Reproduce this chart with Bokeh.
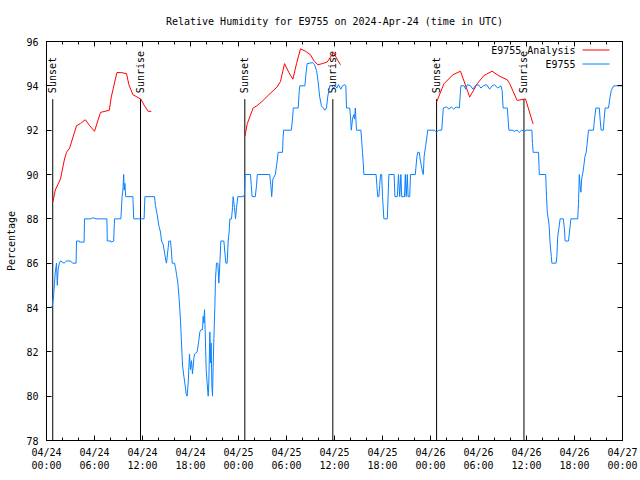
import math
from bokeh.plotting import figure
from bokeh.models import Range1d, FixedTicker, LinearAxis, Label, Arrow, ColumnDataSource
from bokeh.core.properties import value
from bokeh.embed import file_html
from bokeh.resources import INLINE

nan = float("nan")
FONT = "DejaVu Sans Mono"

title_text = "Relative Humidity for E9755 on 2024-Apr-24 (time in UTC)"
y_axis_label = "Percentage"
series_names = ["E9755 Analysis", "E9755"]

# x values are hours since 2024-04-24 00:00 UTC
x_tick_hours = [0, 6, 12, 18, 24, 30, 36, 42, 48, 54, 60, 66, 72]
x_tick_labels = ["04/24\n00:00", "04/24\n06:00", "04/24\n12:00", "04/24\n18:00",
                 "04/25\n00:00", "04/25\n06:00", "04/25\n12:00", "04/25\n18:00",
                 "04/26\n00:00", "04/26\n06:00", "04/26\n12:00", "04/26\n18:00",
                 "04/27\n00:00"]
x_minor_hours = list(range(0, 73, 2))
y_ticks = [78, 80, 82, 84, 86, 88, 90, 92, 94, 96]

sunset_hours = [0.78, 24.79, 48.76]
sunrise_hours = [11.75, 35.79, 59.68]
sun_marker_top = 93.4

analysis_hours = [
    0.79, 1.1, 1.75, 2.25, 2.5, 2.9, 3.75, 4.25, 4.85, 5.4, 6.0, 6.75, 7.85, 8.1,
    8.8, 9.3, 10.0, 10.3, 10.8, 11.3, 11.8, 12.25, 12.7, 13.1,
    nan,
    24.8, 25.1, 25.83, 26.3, 26.96, 27.8, 28.83, 29.25, 29.75, 30.3, 30.8, 31.25,
    31.75, 32.375, 33.0, 33.4, 33.9, 34.46, 35.08, 35.5, 35.9, 36.4, 36.75,
    nan,
    48.75, 49.67, 50.8, 51.75, 52.9, 53.85, 54.7, 55.7, 56.55, 57.6, 57.9, 58.83,
    59.875, 60.83,
]
analysis_values = [
    88.75, 89.3, 89.8, 90.7, 91.0, 91.2, 92.2, 92.3, 92.47, 92.2, 91.95, 92.8, 92.9, 93.5,
    94.6, 94.6, 94.55, 94.05, 93.6, 93.5, 93.4, 93.1, 92.85, 92.85,
    nan,
    91.72, 92.3, 93.0, 93.1, 93.3, 93.6, 93.95, 94.2, 95.0, 94.6, 94.3, 95.0,
    95.67, 95.56, 95.4, 95.15, 94.95, 95.0, 95.07, 95.3, 95.5, 95.15, 94.95,
    nan,
    93.26, 94.09, 94.5, 94.66, 93.49, 94.1, 94.47, 94.66, 94.45, 94.27, 94.1, 93.34,
    93.41, 92.28,
]

e9755_hours = [
    0.0, 0.6, 0.75, 0.9, 1.0, 1.1, 1.25, 1.35, 1.45, 1.6, 1.75, 2.2, 2.5, 3.0, 3.25,
    3.7, 3.75, 4.1, 4.15, 4.7, 4.75, 5.5, 5.8, 6.2, 7.55, 7.6, 8.05, 8.1, 8.4, 8.5,
    9.3, 9.45, 9.55, 9.65, 9.72, 9.8, 9.9, 10.8, 10.9, 12.2, 12.3, 13.5, 13.62, 13.83,
    14.04, 14.25, 14.375, 14.58, 14.75, 14.92, 15.0, 15.21, 15.29, 15.5, 15.625, 15.71,
    16.0, 16.125, 16.25, 16.42, 16.58, 16.75, 16.875, 17.0, 17.17, 17.29, 17.46, 17.58,
    17.71, 17.875, 18.0, 18.125, 18.25, 18.42, 18.5, 18.83, 19.0, 19.17, 19.33, 19.5,
    19.58, 19.67, 19.75, 19.83, 19.96, 20.08, 20.21, 20.29, 20.42, 20.5, 20.58, 20.67,
    20.75, 20.83, 20.92, 21.04, 21.125, 21.25, 21.42, 21.54, 21.67, 21.79, 22.17, 22.29,
    22.42, 22.58, 22.71, 22.83, 22.92, 23.125, 23.25, 23.33, 23.5, 23.625, 23.75, 23.92,
    24.6, 24.75, 24.82, 25.5, 25.6, 25.7, 26.1, 26.25, 26.35, 27.9, 28.05, 28.15, 28.3,
    28.6, 28.8, 28.96, 29.5, 29.58, 29.65, 30.6, 30.75, 30.85, 31.46, 31.6, 31.67, 32.3,
    32.45, 32.58, 33.3, 33.5, 33.75, 33.95, 34.15, 34.37, 34.6, 34.8, 35.0, 35.15, 35.3,
    35.4, 35.7, 35.9, 36.1, 36.3, 36.5, 36.8, 37.0, 37.3, 37.42, 37.5, 37.9, 38.0, 38.1,
    38.25, 38.4, 38.5, 38.6, 38.75, 39.3, 39.4, 39.5, 39.6, 39.67, 41.2, 41.3, 41.4,
    41.55, 41.65, 41.75, 41.9, 42.0, 42.17, 42.6, 42.7, 42.8, 43.45, 43.55, 43.85, 44.0,
    44.15, 44.3, 44.4, 44.75, 44.85, 44.96, 45.1, 45.2, 45.4, 45.5, 46.1, 46.3, 46.4,
    46.6, 46.7, 46.85, 47.0, 47.1, 47.2, 47.4, 47.55, 47.65, 48.5, 48.75, 49.0, 49.4,
    49.5, 49.6, 50.0, 50.3, 50.6, 50.9, 51.2, 51.6, 51.7, 51.8, 52.2, 52.4, 52.6, 53.0,
    53.3, 53.6, 54.0, 54.3, 54.6, 55.0, 55.4, 55.7, 56.0, 56.4, 56.8, 56.95, 57.08, 57.6,
    57.7, 57.8, 58.2, 58.5, 58.8, 59.1, 59.4, 59.7, 60.0, 60.67, 60.75, 60.83, 61.5,
    61.6, 62.4, 62.5, 62.6, 62.83, 62.95, 63.1, 63.17, 63.7, 63.8, 63.9, 64.1, 64.2,
    64.6, 64.75, 64.83, 65.25, 65.4, 65.55, 66.4, 66.5, 66.6, 66.7, 66.8, 66.9, 67.1,
    67.3, 67.46, 67.55, 67.75, 68.37, 68.5, 68.67, 69.1, 69.2, 69.33, 69.6, 69.7, 69.83,
    70.25, 70.45, 70.6, 70.9, 72.0,
]
e9755_values = [
    84.0, 84.0, 84.1, 84.6, 85.1, 85.6, 86.0, 85.0, 85.7, 86.0, 86.1, 86.0, 86.1, 86.1, 86.0,
    86.0, 87.0, 87.0, 86.95, 86.95, 88.0, 88.0, 88.05, 88.0, 88.0, 87.0, 87.0, 86.95, 87.0, 88.0,
    88.0, 89.0, 89.3, 90.0, 89.3, 89.6, 89.0, 89.0, 88.0, 88.0, 89.0, 89.0, 88.6, 88.2,
    87.7, 87.4, 87.0, 86.85, 86.5, 86.1, 86.0, 86.7, 87.0, 87.0, 86.5, 86.0,
    86.0, 85.8, 85.5, 85.1, 84.4, 83.4, 82.4, 81.4, 80.9, 80.6, 80.1, 80.0,
    80.6, 81.9, 81.2, 81.6, 81.0, 81.7, 81.9, 82.0, 82.4, 82.9, 83.0, 83.0,
    83.6, 83.3, 83.9, 83.0, 81.2, 80.6, 80.0, 80.6, 82.9, 81.5, 82.4, 80.5,
    80.0, 81.3, 82.6, 84.0, 85.3, 86.0, 86.0, 85.1, 86.0, 87.0, 87.0, 86.5,
    86.0, 86.0, 87.0, 87.4, 88.0, 88.0, 88.5, 89.0, 88.5, 88.0, 88.5, 89.0,
    89.0, 89.1, 90.0, 90.0, 89.5, 89.0, 89.0, 89.5, 90.0, 90.0, 89.5, 89.0, 89.8,
    90.0, 90.5, 91.0, 91.0, 91.7, 92.0, 92.0, 92.5, 93.0, 93.0, 93.8, 94.0, 94.0,
    94.6, 95.0, 95.05, 94.95, 94.7, 94.2, 93.5, 93.1, 93.0, 92.9, 93.0, 93.5, 93.8,
    94.0, 94.0, 93.9, 94.0, 93.9, 94.05, 93.85, 94.0, 94.05, 94.0, 93.0, 93.0, 92.6, 92.0,
    92.5, 92.7, 92.5, 93.0, 92.0, 92.0, 91.5, 91.0, 90.5, 90.0, 90.0, 89.5, 89.0,
    89.0, 89.5, 90.0, 90.0, 89.0, 88.0, 88.0, 89.0, 90.0, 90.0, 89.0, 89.0, 90.0,
    89.0, 90.0, 89.0, 89.0, 90.0, 89.0, 90.0, 89.0, 89.0, 90.0, 90.0, 90.8, 91.0,
    91.0, 90.7, 90.4, 90.1, 90.0, 90.8, 91.3, 91.7, 92.0, 92.0, 91.9, 92.0, 92.0,
    92.5, 93.0, 93.05, 92.95, 93.05, 92.95, 93.05, 93.0, 93.5, 94.0, 94.0, 93.85, 94.05, 94.0,
    93.85, 94.0, 94.05, 93.9, 94.0, 94.05, 93.85, 94.0, 94.05, 93.9, 94.0, 93.8, 93.0, 93.0,
    92.5, 92.0, 92.0, 91.95, 92.0, 91.9, 92.0, 91.95, 92.0, 92.0, 91.4, 91.0, 91.0,
    90.0, 90.0, 89.0, 88.3, 87.7, 86.9, 86.3, 86.0, 86.0, 86.3, 87.2, 87.7, 88.0,
    88.0, 87.5, 87.0, 87.0, 87.5, 88.0, 88.0, 88.7, 90.0, 89.5, 89.2, 89.8, 90.2,
    90.8, 91.0, 91.3, 92.0, 92.0, 92.5, 93.0, 93.0, 92.5, 92.0, 92.0, 92.5, 93.0,
    93.0, 93.5, 93.8, 94.0, 94.0,
]

RED = "#ff0000"
BLUE = "#0a80ff"

p = figure(width=640, height=480,
           x_range=Range1d(0, 72), y_range=Range1d(78, 96),
           output_backend="svg", toolbar_location=None,
           min_border_left=46, min_border_right=18,
           min_border_top=41, min_border_bottom=40)
p.grid.visible = False
p.outline_line_color = "black"
p.outline_line_width = 1
p.background_fill_color = "white"
p.border_fill_color = "white"

p.title.text = title_text
p.title.align = "center"
p.title.vertical_align = "top"
p.title.text_font = FONT
p.title.text_font_size = "10px"
p.title.text_font_style = "normal"
p.title.text_color = "black"
p.title.standoff = 25

xticker = FixedTicker(ticks=x_tick_hours, minor_ticks=x_minor_hours)
yticker = FixedTicker(ticks=y_ticks, minor_ticks=[])

xa = p.xaxis[0]
xa.ticker = xticker
xa.major_label_overrides = {h: lab for h, lab in zip(x_tick_hours, x_tick_labels)}
ya = p.yaxis[0]
ya.ticker = yticker
ya.axis_label = y_axis_label

for ax in (xa, ya):
    ax.axis_line_color = "black"
    ax.major_tick_in = 5
    ax.major_tick_out = 0
    ax.minor_tick_in = 3
    ax.minor_tick_out = 0
    ax.major_tick_line_color = "black"
    ax.minor_tick_line_color = "black"
    ax.major_label_text_font = FONT
    ax.major_label_text_font_size = "10px"
    ax.major_label_text_color = "black"
    ax.axis_label_text_font = FONT
    ax.axis_label_text_font_size = "10px"
    ax.axis_label_text_font_style = "normal"
    ax.axis_label_text_color = "black"
xa.major_label_standoff = 6
ya.major_label_standoff = 8
ya.axis_label_standoff = 6

top_axis = LinearAxis(ticker=xticker, major_tick_in=5, major_tick_out=0,
                      minor_tick_in=3, minor_tick_out=0, major_label_standoff=0,
                      major_label_overrides={h: "" for h in x_tick_hours},
                      axis_line_color="black")
p.add_layout(top_axis, "above")
right_axis = LinearAxis(ticker=yticker, major_tick_in=5, major_tick_out=0,
                        minor_tick_in=0, minor_tick_out=0, major_label_standoff=0,
                        major_label_overrides={t: "" for t in y_ticks},
                        axis_line_color="black")
p.add_layout(right_axis, "right")

# sunrise / sunset markers
sun_x = sunset_hours + sunrise_hours
sun_labels = ["Sunset"] * len(sunset_hours) + ["Sunrise"] * len(sunrise_hours)
sun_src = ColumnDataSource(dict(x=sun_x, y0=[78] * len(sun_x),
                                y1=[sun_marker_top] * len(sun_x), label=sun_labels))
p.segment(x0="x", y0="y0", x1="x", y1="y1", source=sun_src,
          line_color="black", line_width=1)
p.text(x="x", y="y1", text="label", source=sun_src, angle=math.pi / 2,
       text_align="left", text_baseline="middle", y_offset=-6,
       text_font=value(FONT), text_font_size="10px", text_color="black")

# series
p.line(analysis_hours, analysis_values, line_color=RED, line_width=1)
p.line(e9755_hours, e9755_values, line_color=BLUE, line_width=1)

# legend (gnuplot style: text then sample)
for i, (name, col) in enumerate(zip(series_names, [RED, BLUE])):
    ys = 390.5 - 14 * i
    p.add_layout(Label(x=529, y=ys, x_units="screen", y_units="screen", text=name,
                       text_align="right", text_baseline="middle",
                       text_font=FONT, text_font_size="10px", text_color="black"))
    p.add_layout(Arrow(x_start=536, y_start=ys, x_end=563, y_end=ys,
                       start_units="screen", end_units="screen", end=None,
                       line_color=col, line_width=1))

open("out.html", "w").write(file_html(p, INLINE))
